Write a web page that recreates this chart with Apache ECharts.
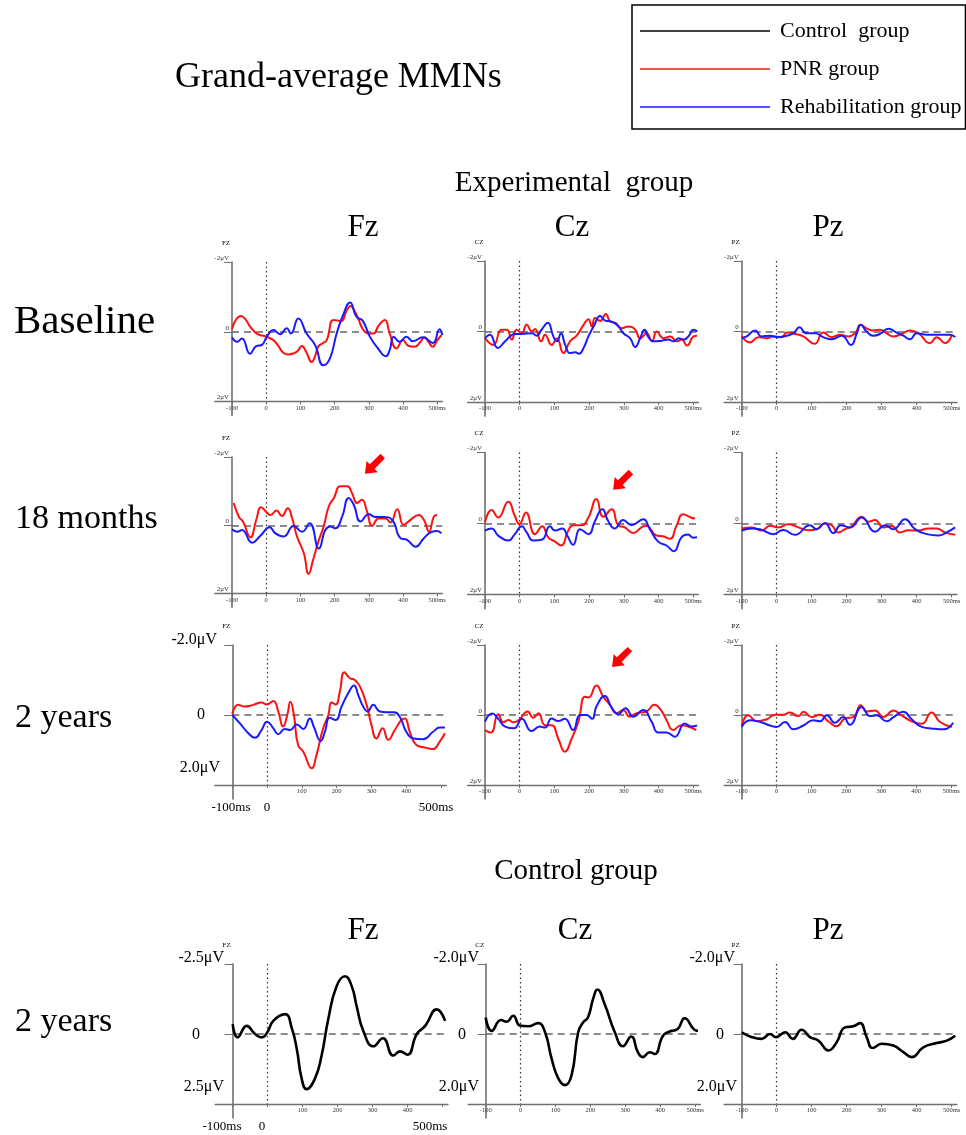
<!DOCTYPE html>
<html><head><meta charset="utf-8">
<script src="https://cdn.jsdelivr.net/npm/echarts@6/dist/echarts.min.js"></script>
<style>html,body{margin:0;padding:0;background:#fff}#c{width:966px;height:1135px}</style>
</head><body><div id="c"></div>
<script>
// ---- data: [time ms, amplitude μV] (negative plotted upward) ----
const baselineFzPNR = [[-100,-0.07],[-88,-0.35],[-74,-0.45],[-60,-0.35],[-47,-0.15],[-25,0.07],[-3,0.13],[21,0.24],[35,0.4],[50,0.6],[65,0.65],[80,0.62],[92,0.55],[104,0.41],[118,0.6],[133,0.87],[143,0.7],[152,0.43],[165,0.33],[177,0.24],[196,-0.34],[208,-0.32],[220,-0.31],[235,-0.6],[247,-0.74],[258,-0.6],[269,-0.38],[284,-0.05],[300,0.05],[313,0.05],[330,-0.2],[347,-0.34],[361,0.05],[381,0.48],[400,0.24],[415,0.4],[434,0.43],[450,0.3],[463,0.16],[475,0.3],[487,0.43],[500,0.25],[512,0.1]];
const baselineFzRehab = [[-100,0.16],[-85,0.29],[-71,0.19],[-47,0.63],[-29,0.41],[-13,0.38],[2,0.14],[21,-0.05],[41,0.07],[60,-0.1],[72,0.05],[94,-0.38],[118,0.05],[143,0.38],[167,0.96],[186,0.77],[206,0.05],[225,-0.48],[245,-0.84],[264,-0.43],[282,-0.32],[303,0.14],[327,0.48],[350,0.7],[361,0.53],[373,0.14],[390,0.29],[410,0.14],[429,0.27],[458,0.16],[487,0.32],[507,-0.07],[515,0.1]];
const baselineCzPNR = [[-100,0.19],[-76,0.38],[-52,-0.05],[-37,-0.05],[-23,0.23],[-9,-0.05],[6,0.05],[20,-0.19],[35,0],[44,-0.07],[62,0.28],[73,0.09],[92,0.38],[107,0.19],[126,0.61],[145,0.28],[164,0.12],[184,-0.19],[198,-0.35],[208,-0.14],[217,-0.38],[232,-0.3],[248,-0.5],[261,-0.28],[275,-0.25],[294,-0.09],[313,-0.14],[333,-0.05],[347,0.19],[366,0.05],[381,0.28],[395,0],[414,0.19],[434,0.14],[453,0.28],[467,0.23],[482,0.4],[501,0.14],[511,0.12]];
const baselineCzRehab = [[-100,0.19],[-86,0.09],[-63,0.47],[-42,0.28],[-13,0.07],[6,0.07],[35,0.05],[49,0.12],[63,-0.05],[81,-0.25],[97,0.14],[107,0.28],[119,0.05],[131,0.38],[145,0.61],[160,0.59],[171,0.63],[184,0.47],[198,0.14],[213,-0.14],[232,-0.44],[246,-0.31],[265,-0.28],[285,-0.14],[299,0.05],[318,0.19],[333,0.44],[347,0.19],[360,-0.05],[371,0.16],[386,0.28],[410,0.26],[429,0.23],[443,0.28],[458,0.19],[472,0.23],[486,0.14],[501,-0.05],[512,0]];
const baselinePzPNR = [[-100,0.12],[-76,0.31],[-52,0.16],[-29,0.19],[-10,0.14],[14,0.16],[29,0.03],[52,0.07],[76,0.14],[108,0.35],[133,0.03],[157,0.16],[181,0.09],[205,0.14],[224,0.05],[240,-0.19],[257,-0.09],[276,-0.03],[295,-0.05],[314,0.05],[333,0.14],[357,0.07],[381,-0.03],[405,0.05],[438,0.33],[457,0.16],[481,0.33],[500,0.12]];
const baselinePzRehab = [[-100,0.19],[-86,0.14],[-62,-0.03],[-43,0.14],[-19,0.12],[5,0.16],[29,0.12],[48,0.05],[65,-0.12],[84,0.05],[110,0.05],[133,0.16],[157,0.22],[186,0.12],[212,0.38],[229,0.05],[240,-0.19],[257,0],[276,0.12],[295,0.07],[319,-0.08],[343,0.03],[362,0.12],[381,0.22],[400,0.05],[429,0.09],[467,0.09],[495,0.09],[510,0.16]];

const m18FzPNR = [[-95,-0.65],[-80,-0.25],[-68,-0.11],[-46,0.35],[-29,-0.16],[-15,-0.53],[2,-0.37],[12,-0.3],[30,-0.43],[46,-0.27],[63,-0.5],[76,-0.2],[90,0.33],[110,0.82],[124,1.43],[137,1.02],[154,0.43],[168,0.04],[183,-0.55],[198,-0.8],[217,-1.14],[237,-1.14],[251,-0.94],[266,-0.65],[280,-0.75],[295,-0.4],[310,0.02],[329,-0.2],[349,-0.2],[363,-0.08],[383,-0.47],[402,-0.01],[422,-0.16],[446,-0.3],[461,-0.16],[476,0.19],[490,-0.25],[500,-0.3]];
const m18FzRehab = [[-100,0.12],[-85,0.19],[-71,0.14],[-41,0.51],[-17,0.31],[10,0.06],[27,0.24],[51,0.33],[80,0.02],[105,0.19],[127,-0.06],[154,0.68],[173,0.14],[188,0.04],[202,0.09],[222,-0.25],[241,-0.8],[256,-0.6],[276,-0.11],[300,-0.32],[320,-0.24],[344,-0.24],[368,-0.16],[393,0.38],[412,0.43],[437,0.63],[461,0.38],[485,0.19],[500,0.17],[512,0.24]];
const m18CzPNR = [[-100,-0.03],[-81,-0.38],[-62,-0.17],[-33,-0.61],[-14,-0.21],[-1,0.02],[18,-0.31],[44,0.3],[65,0.08],[82,0.39],[102,0.51],[119,0.62],[140,0.2],[154,0.05],[178,0.05],[198,-0.17],[221,-0.69],[241,-0.19],[265,-0.4],[284,0.05],[303,0.11],[327,0.27],[351,0.11],[365,0.06],[394,0.34],[413,0.36],[433,0.43],[452,0.06],[471,-0.26],[493,-0.17],[505,-0.14]];
const m18CzRehab = [[-100,0.2],[-81,0.14],[-62,0.34],[-33,0.48],[-14,0.3],[6,0.08],[20,0.25],[39,0.48],[65,0.45],[87,0.08],[102,0.2],[123,0.14],[137,0.34],[154,0.6],[174,0.16],[198,0.3],[217,-0.07],[238,-0.4],[255,-0.07],[274,0.14],[298,-0.1],[322,0.05],[356,-0.12],[375,0.16],[399,0.51],[423,0.62],[444,0.78],[466,0.39],[485,0.31],[500,0.4],[511,0.39]];
const m18PzPNR = [[-100,0.14],[-71,0.11],[-43,0.2],[-19,0.06],[5,0.11],[33,0.02],[62,0.11],[90,0.19],[114,0.16],[138,-0.01],[157,0.05],[176,0.25],[195,0.16],[214,0.08],[243,-0.19],[262,-0.05],[281,-0.1],[305,0.11],[329,0.07],[352,0.25],[376,0.19],[405,0.2],[433,0.14],[457,0.14],[481,0.25],[510,0.32]];
const m18PzRehab = [[-100,0.2],[-71,0.14],[-48,0.16],[-10,0.3],[19,0.18],[52,0.32],[95,0.05],[114,0.16],[138,-0.01],[162,0.27],[183,0.05],[210,0.11],[243,-0.17],[281,0.23],[310,0.05],[333,0.16],[367,-0.12],[395,0.16],[429,0.3],[462,0.34],[486,0.25],[510,0.11]];

const y2FzPNR = [[-100,-0.02],[-83,-0.29],[-64,-0.24],[-40,-0.29],[-16,-0.36],[-1,-0.3],[18,-0.4],[32,-0.1],[46,0.33],[58,0],[67,-0.38],[77,0],[89,0.86],[104,1.05],[128,1.52],[142,1.14],[161,0.38],[176,0],[185,-0.36],[197,-0.3],[209,-0.67],[222,-1.22],[238,-1.05],[252,-1.0],[267,-0.81],[286,-0.29],[300,0.29],[314,0.67],[332,0.38],[348,0.71],[367,0.43],[386,0.14],[396,0.1],[410,0.48],[429,0.86],[453,0.93],[477,0.97],[496,0.76],[511,0.52]];
const y2FzRehab = [[-100,0],[-78,0.24],[-54,0.52],[-35,0.65],[-16,0.43],[0,0.19],[18,0.38],[32,0.55],[51,0.4],[66,0.43],[85,0.27],[104,0.4],[123,0.1],[134,0.33],[154,0.74],[166,0.48],[180,0.08],[197,0.14],[214,-0.24],[233,-0.62],[250,-0.84],[262,-0.57],[276,-0.24],[289,-0.1],[305,-0.29],[324,-0.1],[343,-0.08],[364,-0.08],[381,0.05],[400,0.48],[420,0.67],[448,0.69],[477,0.48],[496,0.36],[511,0.36]];
const y2CzPNR = [[-100,0.43],[-83,0.5],[-62,-0.02],[-47,0.21],[-33,0.14],[-18,0.21],[-2,0.14],[23,-0.1],[39,0.08],[54,-0.05],[73,0.29],[92,0.29],[111,0.67],[130,1.05],[150,0.67],[169,0.19],[188,-0.52],[198,-0.5],[221,-0.84],[241,-0.52],[260,-0.29],[279,-0.05],[298,-0.14],[317,0.05],[337,-0.05],[365,-0.1],[388,-0.29],[407,-0.14],[423,0.14],[442,0.43],[466,0.29],[485,0.33],[509,0.43]];
const y2CzRehab = [[-100,0.19],[-79,-0.04],[-62,0.11],[-42,0.33],[-16,0.38],[6,0.11],[34,0.46],[58,0.33],[73,0.36],[92,0.1],[111,0.17],[130,0.11],[154,0.43],[174,0],[193,0],[209,0.11],[221,-0.24],[245,-0.54],[265,-0.21],[284,-0.02],[305,-0.19],[327,0.05],[356,-0.14],[380,0.19],[399,0.5],[423,0.5],[447,0.62],[476,0.24],[495,0.33],[511,0.3]];
const y2PzPNR = [[-100,0.3],[-81,0.01],[-57,0.18],[-28,0.12],[-4,-0.01],[19,-0.01],[38,-0.07],[62,0.03],[77,-0.09],[101,0.06],[124,-0.01],[148,0.18],[172,0.32],[196,0.1],[220,0.06],[241,-0.28],[258,-0.1],[282,-0.13],[306,0.06],[335,-0.13],[358,0.01],[387,0.18],[416,0.25],[444,-0.07],[468,0.2],[502,0.34]];
const y2PzRehab = [[-100,0.34],[-76,0.15],[-47,0.2],[-19,0.3],[0,0.34],[24,0.2],[48,0.41],[77,0.3],[105,0.15],[124,0.18],[144,0.01],[167,0.22],[191,0.06],[210,0.28],[244,-0.23],[268,0.03],[287,0.01],[315,0.18],[335,0.06],[363,-0.09],[387,0.12],[416,0.34],[449,0.39],[478,0.41],[506,0.22]];

const controlFz = [[-100,-0.35],[-86,0.12],[-60,-0.29],[-36,0],[-17,0.12],[-1,-0.06],[16,-0.47],[50,-0.71],[69,-0.2],[83,0.53],[97,1.59],[111,1.97],[135,1.59],[154,0.77],[173,-0.53],[197,-1.71],[221,-2.06],[240,-1.71],[254,-1.0],[273,-0.12],[302,0.44],[329,0.15],[359,0.77],[378,0.62],[399,0.74],[426,0],[450,-0.29],[483,-0.88],[507,-0.47]];
const controlCz = [[-100,-0.47],[-83,-0.09],[-56,-0.4],[-40,-0.35],[-21,-0.52],[-2,-0.24],[22,-0.22],[50,-0.31],[70,-0.05],[89,0.71],[108,1.27],[127,1.46],[146,1.18],[165,-0.05],[179,-0.33],[193,-0.47],[208,-1.01],[220,-1.27],[241,-0.85],[270,-0.05],[293,0.35],[317,0.07],[336,0.52],[350,0.66],[370,0.52],[384,0.57],[408,0.05],[427,-0.07],[450,-0.14],[470,-0.45],[498,-0.12],[508,-0.09]];
const controlPz = [[-100,-0.05],[-76,0.07],[-43,0.14],[-19,0],[-2,0.09],[24,-0.05],[46,0.14],[71,-0.12],[95,0.09],[119,0.19],[148,0.47],[171,0.24],[195,-0.19],[219,-0.22],[238,-0.31],[257,0.09],[274,0.4],[300,0.28],[333,0.33],[362,0.52],[386,0.66],[419,0.38],[457,0.26],[486,0.19],[510,0.05]];

const xTicks = [-100, 0, 100, 200, 300, 400, 500];
const xTicksInner = [100, 200, 300, 400];
const legendNames = ['Control  group', 'PNR group', 'Rehabilitation group'];
const arrowMarks = { m18Fz: [318, -1.8], m18Cz: [298, -1.23], y2Fz: [311, -2.06], y2Cz: [295, -1.66] };

// ---- layout ----
const FONT = '"Liberation Serif","Times New Roman",serif';
const COLORS = { 'PNR group': '#ff1010', 'Rehabilitation group': '#1a1aff', 'Control  group': '#000000' };
const P = 'PNR group', R = 'Rehabilitation group', C = 'Control  group';
const panels = [
  { nm:'FZ', gx:232, pp:34.2, top:262, h:139.5, s:2, lines:[[P,baselineFzPNR],[R,baselineFzRehab]] },
  { nm:'CZ', gx:485, pp:34.7, top:261, h:141, s:2, lines:[[P,baselineCzPNR],[R,baselineCzRehab]] },
  { nm:'PZ', gx:741.7, pp:35, top:261, h:141, s:2, lines:[[P,baselinePzPNR],[R,baselinePzRehab]] },
  { nm:'FZ', gx:232, pp:34.2, top:457, h:136.5, s:2, arrow:arrowMarks.m18Fz, lines:[[P,m18FzPNR],[R,m18FzRehab]] },
  { nm:'CZ', gx:485, pp:34.7, top:452.5, h:142, s:2, arrow:arrowMarks.m18Cz, lines:[[P,m18CzPNR],[R,m18CzRehab]] },
  { nm:'PZ', gx:741.7, pp:35, top:452.5, h:142, s:2, lines:[[P,m18PzPNR],[R,m18PzRehab]] },
  { nm:'FZ', gx:232.3, pp:34.8, top:645, h:140, s:2, bigY:true, bigX:true, arrow:arrowMarks.y2Fz, lines:[[P,y2FzPNR],[R,y2FzRehab]] },
  { nm:'CZ', gx:485, pp:34.7, top:645, h:140, s:2, arrow:arrowMarks.y2Cz, lines:[[P,y2CzPNR],[R,y2CzRehab]] },
  { nm:'PZ', gx:741.7, pp:34.9, top:645, h:140, s:2, lines:[[P,y2PzPNR],[R,y2PzRehab]] },
  { nm:'FZ', gx:232.7, pp:35, top:964, h:140, s:2.5, bigY:true, bigX:true, lines:[[C,controlFz]] },
  { nm:'CZ', gx:485.7, pp:34.9, top:964, h:140, s:2, bigY:true, lines:[[C,controlCz]] },
  { nm:'PZ', gx:741.7, pp:35, top:964, h:140, s:2, bigY:true, lines:[[C,controlPz]] }
];

const AX = '#707070';
const ARROW = 'path://M0 100 L8 36 L24 52 L78 0 L100 22 L48 76 L64 92 Z';
const grids = [], xAxes = [], yAxes = [], series = [], graphics = [];

function txt(x, y, text, size, align) {
  graphics.push({ type:'text', x:x, y:y, silent:true,
    style:{ text:text, font: size + 'px ' + FONT, fill:'#000', align: align || 'left', verticalAlign:'middle' } });
}

panels.forEach((p, i) => {
  const ext = 0.1 * p.h;
  grids.push({ left: p.gx - 0.5 * p.pp, top: p.top, width: 6.65 * p.pp, height: p.h + ext, containLabel:false });
  xAxes.push({ gridIndex:i, type:'value', min:-150, max:515, position:'bottom', offset:-ext,
    axisLine:{ show:true, onZero:false, lineStyle:{ color:AX, width:1.4 } },
    axisTick:{ show:true, customValues:xTicks, length:3, lineStyle:{ color:AX, width:1 } },
    axisLabel:{ show:true, customValues: p.bigX ? xTicksInner : xTicks, fontSize:6.5, color:'#333', fontFamily:FONT, margin:3,
      formatter: v => v === 500 ? '500ms' : String(v) },
    splitLine:{ show:false } });
  yAxes.push({ gridIndex:i, type:'value', inverse:true, min:-p.s, max:1.2 * p.s, position:'left', offset:-0.5 * p.pp,
    axisLine:{ show:true, onZero:false, lineStyle:{ color:AX, width:1.6 } },
    axisTick:{ show:true, customValues:[-p.s, 0], length:8, lineStyle:{ color:AX, width:1 } },
    axisLabel:{ show: !p.bigY, customValues:[-p.s, 0, p.s], fontSize:7, color:'#333', fontFamily:FONT, margin:3,
      verticalAlign:'bottom', lineHeight:8,
      formatter: v => v === 0 ? '0' : (v < 0 ? '-' : '') + Math.abs(v) + 'μV' },
    splitLine:{ show:false } });
  p.lines.forEach(([name, data], k) => {
    const sr = { type:'line', name:name, xAxisIndex:i, yAxisIndex:i, data:data, showSymbol:false, symbol:'none',
      smooth:0.5, silent:true, animation:false, color:COLORS[name],
      lineStyle:{ color:COLORS[name], width: name === C ? 2.6 : 2 }, z: 3 + k };
    if (k === 0) {
      sr.markLine = { silent:true, symbol:['none','none'], label:{ show:false }, animation:false, z:2,
        data:[
          [{ coord:[-100, 0], lineStyle:{ type:[7,5], color:'#666', width:1.7 } }, { coord:[515, 0] }],
          [{ coord:[0, -p.s], lineStyle:{ type:[1.5,3], color:'#333', width:1.2 } }, { coord:[0, p.s] }]
        ] };
    }
    if (name === P && p.arrow) {
      sr.markPoint = { silent:true, animation:false, symbol:ARROW, symbolSize:[20,20], symbolKeepAspect:true,
        itemStyle:{ color:'#ff0000' }, label:{ show:false }, data:[{ coord:p.arrow }] };
    }
    series.push(sr);
  });
  txt(p.gx - 6, p.top - 19, p.nm, 7, 'center');
});

// headings
txt(175, 78, 'Grand-average MMNs', 36, 'left');
txt(574, 183, 'Experimental  group', 29, 'center');
txt(363, 228, 'Fz', 31, 'center'); txt(572, 228, 'Cz', 31, 'center'); txt(828, 228, 'Pz', 31, 'center');
txt(14, 322, 'Baseline', 41, 'left');
txt(15, 519, '18 months', 34, 'left');
txt(15, 718, '2 years', 34, 'left');
txt(576, 871, 'Control group', 29, 'center');
txt(363, 931, 'Fz', 31, 'center'); txt(575, 931, 'Cz', 31, 'center'); txt(828, 931, 'Pz', 31, 'center');
txt(15, 1022, '2 years', 34, 'left');
// large axis labels
txt(217, 640, '-2.0μV', 16, 'right'); txt(201, 715, '0', 16, 'center'); txt(220, 768, '2.0μV', 16, 'right');
txt(231, 808, '-100ms', 13, 'center'); txt(267, 808, '0', 13, 'center'); txt(436, 808, '500ms', 13, 'center');
txt(224, 958, '-2.5μV', 16, 'right'); txt(196, 1035, '0', 16, 'center'); txt(224, 1087, '2.5μV', 16, 'right');
txt(222, 1127, '-100ms', 13, 'center'); txt(262, 1127, '0', 13, 'center'); txt(430, 1127, '500ms', 13, 'center');
txt(479, 958, '-2.0μV', 16, 'right'); txt(462, 1035, '0', 16, 'center'); txt(479, 1087, '2.0μV', 16, 'right');
txt(735, 958, '-2.0μV', 16, 'right'); txt(720, 1035, '0', 16, 'center'); txt(737, 1087, '2.0μV', 16, 'right');

const chart = echarts.init(document.getElementById('c'), null, { renderer:'canvas' });
chart.setOption({
  animation:false,
  backgroundColor:'#fff',
  legend:{ data:legendNames, orient:'vertical', left:632, top:5, icon:'rect', itemWidth:130, itemHeight:1.6,
    itemGap:16, padding:[15, 4, 11, 8], borderColor:'#000', borderWidth:1.5, selectedMode:false,
    textStyle:{ fontFamily:FONT, fontSize:22, color:'#000', padding:[0,0,0,5] } },
  grid:grids, xAxis:xAxes, yAxis:yAxes, series:series, graphic:graphics
});
</script></body></html>
